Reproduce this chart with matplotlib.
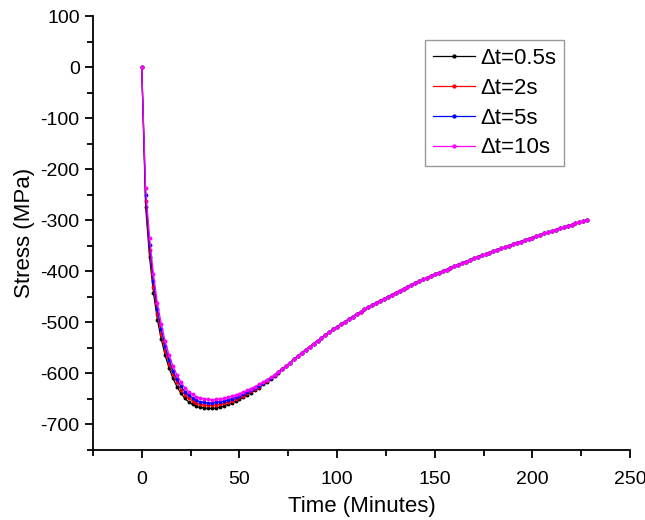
import matplotlib
matplotlib.use("Agg")
import matplotlib.pyplot as plt
from matplotlib.ticker import MultipleLocator

plt.rcParams["font.family"] = ["Liberation Sans", "DejaVu Sans"]
plt.rcParams["axes.unicode_minus"] = False

# time in minutes (sampled every 2 min)
time_head = [0, 2, 4, 6, 8, 10, 12, 14, 16, 18, 20, 22, 24, 26, 28, 30, 32, 34, 36, 38,
             40, 42, 44, 46, 48, 50, 52, 54, 56, 58, 60, 62, 64, 66, 68, 70, 72, 74, 76, 78, 80]
time_tail = [82, 84, 86, 88, 90, 92, 94, 96, 98, 100, 102, 104, 106, 108, 110, 112, 114, 116,
             118, 120, 122, 124, 126, 128, 130, 132, 134, 136, 138, 140, 142, 144, 146, 148,
             150, 152, 154, 156, 158, 160, 162, 164, 166, 168, 170, 172, 174, 176, 178, 180,
             182, 184, 186, 188, 190, 192, 194, 196, 198, 200, 202, 204, 206, 208, 210, 212,
             214, 216, 218, 220, 222, 224, 226, 228]

# stress (MPa) before the curves merge, one list per time step size
stress_05 = [0, -274, -372, -442, -495, -533, -565, -590, -610, -626, -639, -649, -656, -661,
             -665, -667, -668, -669, -669, -668, -666, -664, -661, -658, -655, -651, -647, -642,
             -638, -633, -628, -622, -617, -611, -605, -599, -592, -586, -579, -573, -566]
stress_2 = [0, -262, -359, -430, -484, -523, -556, -581, -602, -618, -632, -642, -649, -654,
            -659, -661, -662, -663, -663, -662, -661, -659, -656, -654, -651, -647, -644, -639,
            -635, -631, -626, -620, -616, -610, -604, -598, -592, -586, -579, -573, -566]
stress_5 = [0, -251, -348, -419, -474, -514, -547, -574, -595, -612, -625, -636, -643, -648,
            -653, -656, -657, -658, -658, -657, -656, -655, -652, -650, -647, -644, -641, -636,
            -633, -629, -624, -619, -614, -609, -604, -598, -591, -585, -579, -573, -566]
stress_10 = [0, -237, -334, -406, -462, -503, -537, -564, -586, -603, -617, -628, -636, -641,
             -646, -649, -650, -651, -652, -651, -650, -649, -647, -645, -643, -640, -637, -633,
             -630, -626, -622, -617, -613, -608, -603, -597, -591, -585, -579, -573, -566]

# shared recovery part (all four curves coincide)
stress_tail = [-560, -554, -548, -542, -536, -531, -525, -520, -514, -509, -504, -499, -494,
               -489, -484, -480, -475, -471, -466, -462, -458, -454, -450, -446, -442, -438,
               -434, -431, -427, -423, -420, -416, -413, -409, -406, -403, -400, -397, -393,
               -390, -387, -384, -381, -378, -375, -372, -369, -367, -364, -361, -358, -355,
               -353, -350, -347, -344, -342, -339, -337, -334, -331, -329, -326, -324, -321,
               -319, -316, -314, -311, -309, -306, -304, -302, -299]

labels = ["\u0394t=0.5s", "\u0394t=2s", "\u0394t=5s", "\u0394t=10s"]
colors = ["black", "red", "blue", "#ff00ff"]
series = [stress_05, stress_2, stress_5, stress_10]

fig = plt.figure(figsize=(6.45, 5.2), dpi=100)
ax = fig.add_axes([0.144, 0.135, 0.833, 0.834])

t = time_head + time_tail
for head, c, lab in zip(series, colors, labels):
    ax.plot(t, head + stress_tail, "-", color=c, lw=0.9, marker="o",
            markersize=2.8, markeredgewidth=0, label=lab)

ax.set_xlim(-25, 250)
ax.set_ylim(-750, 100)
ax.xaxis.set_major_locator(MultipleLocator(50))
ax.xaxis.set_minor_locator(MultipleLocator(25))
ax.yaxis.set_major_locator(MultipleLocator(100))
ax.yaxis.set_minor_locator(MultipleLocator(50))

for side in ["top", "right"]:
    ax.spines[side].set_visible(False)
for side in ["left", "bottom"]:
    ax.spines[side].set_linewidth(1.3)

ax.tick_params(which="major", direction="out", length=6, width=1.3, labelsize=14)
ax.tick_params(axis="x", which="major", pad=9)
ax.tick_params(which="minor", direction="out", length=4, width=1.3)

ax.set_xlabel("Time (Minutes)", fontsize=16, labelpad=6)
ax.set_ylabel("Stress (MPa)", fontsize=16, labelpad=4)

leg = ax.legend(loc="upper left", bbox_to_anchor=(0.659, 0.923),
                bbox_transform=fig.transFigure, borderaxespad=0, fontsize=16,
                frameon=True, fancybox=False, handlelength=1.9, borderpad=0.35,
                labelspacing=0.4, handletextpad=0.25, markerscale=1.1)
leg.get_frame().set_edgecolor("#808080")
leg.get_frame().set_linewidth(1.0)

fig.savefig("out.png", dpi=100)
